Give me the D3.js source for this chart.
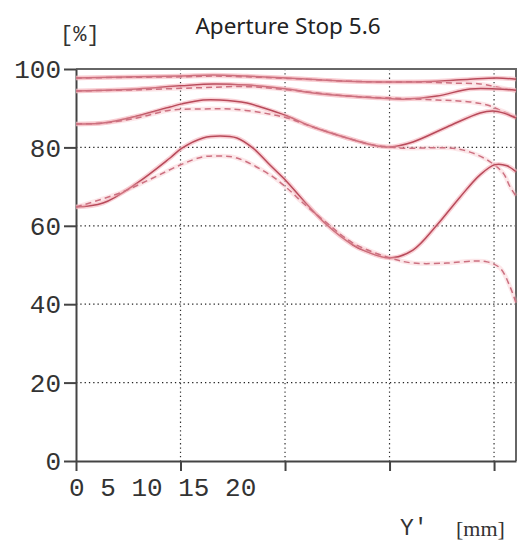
<!DOCTYPE html>
<html>
<head>
<meta charset="utf-8">
<script src="https://cdn.jsdelivr.net/npm/d3@7"></script>
<style>
  body { margin: 0; background: #fff; }
  svg { display: block; }
</style>
</head>
<body>
<script>
// Valores (Y' en mm, contraste en %)
var yTicks = [0, 20, 40, 60, 80, 100];
var xTicks = [0, 5, 10, 15, 20];
var xTickLabels = ["0", "5", "10", "15", "20"];

// curva superior
var dSolidX = [0, 2.92, 4.98, 6.56, 8.18, 10.10, 12.97, 14.55, 15.65, 17.27, 18.85, 20.14, 21.05];
var dSolidY = [97.7, 98.0, 98.2, 98.5, 98.2, 97.7, 96.9, 96.7, 96.7, 96.9, 97.4, 97.7, 97.4];
var dDashX = [0, 2.92, 4.98, 6.56, 8.18, 10.10, 12.97, 14.55, 16.46, 18.04, 19.33, 20.14, 21.05];
var dDashY = [97.7, 97.9, 98.0, 98.2, 98.0, 97.6, 96.9, 96.7, 96.7, 96.4, 96.2, 95.4, 94.4];

// segunda curva
var cSolidX = [0, 2.92, 4.98, 6.56, 8.18, 10.10, 11.34, 12.97, 14.55, 15.65, 17.27, 18.85, 20.14, 21.05];
var cSolidY = [94.4, 94.9, 95.7, 96.2, 95.9, 94.9, 93.9, 93.1, 92.6, 92.3, 93.1, 94.9, 94.9, 94.6];
var cDashX = [0, 2.92, 5.79, 8.18, 10.10, 12.97, 15.02, 17.27, 18.85, 19.67, 20.29, 21.05];
var cDashY = [94.4, 94.7, 95.2, 95.5, 94.7, 93.1, 92.6, 92.1, 91.6, 90.8, 89.5, 87.8];

// tercera curva
var bSolidX = [0, 1.29, 2.92, 4.50, 5.07, 6.08, 6.89, 8.18, 8.95, 10.10, 11.34, 12.97, 14.21, 15.02, 16.12, 17.75, 19.33, 19.95, 20.43, 21.05];
var bSolidY = [86.0, 86.2, 88.0, 90.3, 91.1, 92.1, 92.1, 91.3, 90.1, 88.0, 85.2, 82.4, 80.6, 80.1, 81.4, 85.2, 88.8, 89.3, 88.8, 87.5];
var bDashX = [0, 1.29, 2.92, 4.50, 6.08, 7.37, 8.95, 10.10, 11.34, 12.97, 14.21, 15.02, 15.65, 18.04, 18.85, 19.67, 20.43, 20.77, 21.05];
var bDashY = [86.0, 86.2, 87.5, 89.5, 89.8, 89.8, 88.8, 87.5, 85.2, 82.4, 80.6, 80.1, 79.8, 79.8, 78.8, 76.8, 73.5, 69.9, 67.6];

// curva inferior
var aSolidX = [0, 1.29, 2.92, 4.50, 5.07, 6.08, 6.89, 7.70, 8.47, 9.28, 10.10, 10.86, 12.01, 13.25, 13.73, 15.02, 16.12, 17.27, 18.37, 19.33, 20.05, 20.62, 21.05];
var aSolidY = [64.8, 65.8, 70.9, 77.3, 79.8, 82.4, 82.9, 82.4, 79.8, 75.5, 71.2, 66.6, 60.2, 55.1, 53.8, 51.8, 53.8, 60.2, 67.3, 73.0, 75.6, 75.3, 73.8];
var aDashX = [0, 2.11, 3.68, 4.98, 6.08, 6.89, 7.70, 9.28, 10.10, 10.86, 12.01, 13.25, 15.02, 16.12, 17.75, 18.99, 19.67, 20.29, 20.77, 21.05];
var aDashY = [64.8, 68.4, 72.2, 75.5, 77.6, 77.8, 77.3, 73.0, 69.6, 65.8, 60.7, 55.6, 51.8, 50.5, 50.5, 51.0, 50.8, 49.2, 44.4, 40.3];

var series = [
  {x: dSolidX, y: dSolidY, dashed: false},
  {x: dDashX, y: dDashY, dashed: true},
  {x: cSolidX, y: cSolidY, dashed: false},
  {x: cDashX, y: cDashY, dashed: true},
  {x: bSolidX, y: bSolidY, dashed: false},
  {x: bDashX, y: bDashY, dashed: true},
  {x: aSolidX, y: aSolidY, dashed: false},
  {x: aDashX, y: aDashY, dashed: true}
];

var margin = {top: 69, right: 10, bottom: 81, left: 76},
    width = 526 - margin.left - margin.right,
    height = 542 - margin.top - margin.bottom;

var x = d3.scaleLinear().domain([0, 21.05]).range([0, width]);
var y = d3.scaleLinear().domain([0, 100]).range([height, 0]);

var svg = d3.select("body").append("svg")
    .attr("width", 526)
    .attr("height", 542);

var g = svg.append("g")
    .attr("transform", "translate(" + margin.left + "," + margin.top + ")");

// rejilla punteada
g.selectAll(".hgrid")
  .data(yTicks.filter(function(d) { return d > 0 && d < 100; }))
  .enter().append("line")
    .attr("x1", 0).attr("x2", width)
    .attr("y1", function(d) { return y(d); })
    .attr("y2", function(d) { return y(d); })
    .attr("stroke", "#222")
    .attr("stroke-width", 1.2)
    .attr("stroke-dasharray", "1.3,3");

g.selectAll(".vgrid")
  .data(xTicks.filter(function(d) { return d > 0; }))
  .enter().append("line")
    .attr("x1", function(d) { return x(d); })
    .attr("x2", function(d) { return x(d); })
    .attr("y1", 0).attr("y2", height)
    .attr("stroke", "#333")
    .attr("stroke-width", 1.2)
    .attr("stroke-dasharray", "1.3,3");

// marco superior y derecho
g.append("path")
  .attr("d", "M0,0H" + width + "V" + height)
  .attr("fill", "none")
  .attr("stroke", "#666")
  .attr("stroke-width", 2);

// ejes
var xAxis = d3.axisBottom(x).tickValues(xTicks).tickSize(10).tickFormat("").tickSizeOuter(0);
var yAxis = d3.axisLeft(y).tickValues(yTicks).tickSize(12).tickFormat("").tickSizeOuter(0);

g.append("g")
  .attr("transform", "translate(0," + height + ")")
  .call(xAxis)
  .call(function(s) {
    s.select(".domain").attr("stroke", "#444").attr("stroke-width", 2);
    s.selectAll(".tick line").attr("stroke", "#444").attr("stroke-width", 2);
  });

g.append("g")
  .call(yAxis)
  .call(function(s) {
    s.select(".domain").attr("stroke", "#444").attr("stroke-width", 2);
    s.selectAll(".tick line").attr("stroke", "#444").attr("stroke-width", 2);
  });

// etiquetas del eje Y
g.selectAll(".ylab")
  .data(yTicks)
  .enter().append("text")
    .attr("x", -15)
    .attr("y", function(d) { return y(d); })
    .attr("dy", "0.35em")
    .attr("text-anchor", "end")
    .attr("font-family", "Liberation Mono, monospace")
    .attr("font-size", 26)
    .attr("fill", "#333")
    .text(function(d) { return d; });

// etiquetas del eje X (apretadas a la izquierda como en el original)
g.append("text")
  .attr("x", x(0) - 7)
  .attr("y", height + 35)
  .attr("font-family", "Liberation Mono, monospace")
  .attr("font-size", 26)
  .attr("fill", "#333")
  .attr("xml:space", "preserve")
  .text(xTickLabels.join(" "));

// curvas
var line = d3.line()
  .x(function(d) { return x(d[0]); })
  .y(function(d) { return y(d[1]); })
  .curve(d3.curveCatmullRom.alpha(0.5));

series.forEach(function(s) {
  var pts = s.x.map(function(v, i) { return [v, s.y[i]]; });
  g.append("path")
    .attr("d", line(pts))
    .attr("fill", "none")
    .attr("stroke", "#f6b9c0")
    .attr("stroke-opacity", s.dashed ? 0.35 : 0.65)
    .attr("stroke-width", 4.5);
  g.append("path")
    .attr("d", line(pts))
    .attr("fill", "none")
    .attr("stroke", s.dashed ? "#cc7080" : "#b84a5a")
    .attr("stroke-width", 1.5)
    .attr("stroke-dasharray", s.dashed ? "6,4" : null);
});

// textos
svg.append("text")
  .attr("x", 288).attr("y", 34)
  .attr("text-anchor", "middle")
  .attr("font-family", "Noto Sans, sans-serif")
  .attr("font-size", 22.5)
  .attr("fill", "#222")
  .text("Aperture Stop 5.6");

svg.append("text")
  .attr("x", 60).attr("y", 41)
  .attr("font-family", "Liberation Mono, monospace")
  .attr("font-size", 22)
  .attr("fill", "#333")
  .text("[%]");

svg.append("text")
  .attr("x", 400).attr("y", 535)
  .attr("font-family", "Liberation Mono, monospace")
  .attr("font-size", 23)
  .attr("fill", "#333")
  .text("Y\u2032");

svg.append("text")
  .attr("x", 456).attr("y", 536)
  .attr("font-family", "Liberation Serif, serif")
  .attr("font-size", 22)
  .attr("fill", "#333")
  .text("[mm]");
</script>
</body>
</html>
